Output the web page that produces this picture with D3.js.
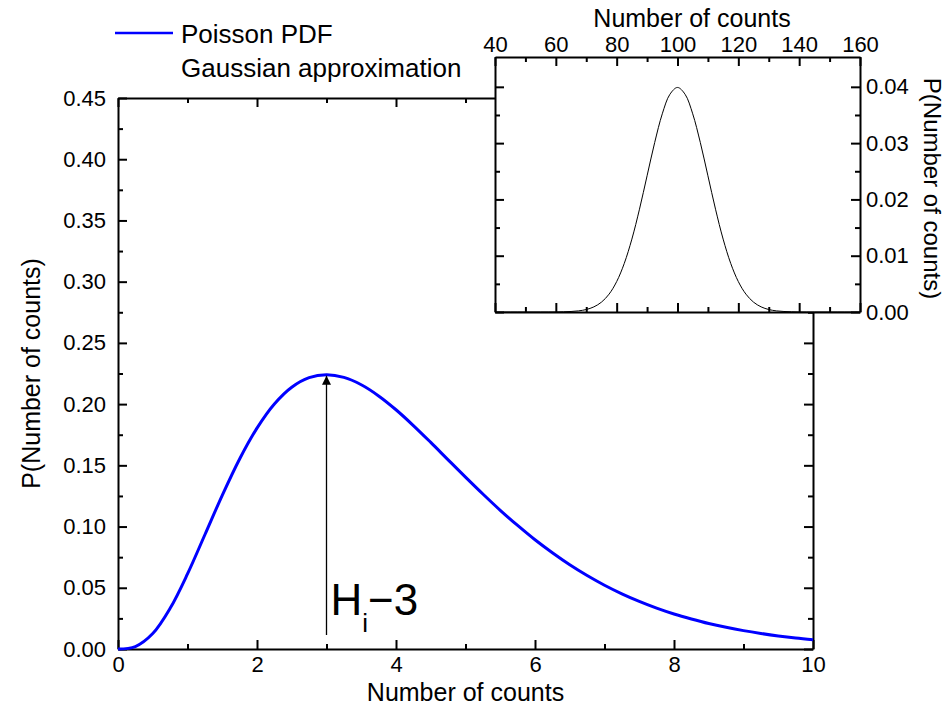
<!DOCTYPE html>
<html>
<head>
<meta charset="utf-8">
<script src="https://cdn.jsdelivr.net/npm/d3@7"></script>
<style>
  html, body { margin: 0; padding: 0; background: #fff; }
  svg { display: block; font-family: "Liberation Sans", Arial, sans-serif; }
  .axis path, .axis line { stroke: #000; }
</style>
</head>
<body>
<svg id="chart" width="945" height="713"></svg>
<script>
// Main curve: probability vs number of counts (steps of 0.25)
const countsX = [0, 0.25, 0.5, 0.75, 1, 1.25, 1.5, 1.75, 2, 2.25, 2.5, 2.75, 3, 3.25, 3.5, 3.75, 4, 4.25, 4.5, 4.75, 5,
                 5.25, 5.5, 5.75, 6, 6.25, 6.5, 6.75, 7, 7.25, 7.5, 7.75, 8, 8.25, 8.5, 8.75, 9, 9.25, 9.5, 9.75, 10];
const poissonY = [0, 0.0020, 0.0126, 0.0332, 0.0613, 0.0933, 0.1255, 0.1552, 0.1804, 0.2001, 0.2138, 0.2216, 0.2240,
                  0.2218, 0.2158, 0.2067, 0.1954, 0.1825, 0.1687, 0.1545, 0.1404, 0.1266, 0.1133, 0.1009, 0.0892,
                  0.0786, 0.0688, 0.0600, 0.0521, 0.0451, 0.0389, 0.0334, 0.0286, 0.0245, 0.0208, 0.0177, 0.0150,
                  0.0127, 0.0107, 0.0090, 0.0076];

// Inset curve: Gaussian approximation around 100 counts (steps of 2.5)
const insetX = [40, 42.5, 45, 47.5, 50, 52.5, 55, 57.5, 60, 62.5, 65, 67.5, 70, 72.5, 75, 77.5, 80, 82.5, 85, 87.5,
                90, 92.5, 95, 97.5, 100, 102.5, 105, 107.5, 110, 112.5, 115, 117.5, 120, 122.5, 125, 127.5, 130,
                132.5, 135, 137.5, 140, 142.5, 145, 147.5, 150, 152.5, 155, 157.5, 160];
const gaussY = [0, 0, 0, 0, 0, 0, 0, 0, 0.00001, 0.00004, 0.00009, 0.00020, 0.00044, 0.00091, 0.00175, 0.00317,
                0.00540, 0.00863, 0.01295, 0.01826, 0.02420, 0.03011, 0.03521, 0.03867, 0.03989, 0.03867, 0.03521,
                0.03011, 0.02420, 0.01826, 0.01295, 0.00863, 0.00540, 0.00317, 0.00175, 0.00091, 0.00044, 0.00020,
                0.00009, 0.00004, 0.00001, 0, 0, 0, 0, 0, 0, 0, 0];

const mainXTicks = [0, 2, 4, 6, 8, 10];
const mainXMinor = [1, 3, 5, 7, 9];
const mainYTicks = [0, 0.05, 0.10, 0.15, 0.20, 0.25, 0.30, 0.35, 0.40, 0.45];
const mainYMinor = [0.025, 0.075, 0.125, 0.175, 0.225, 0.275, 0.325, 0.375, 0.425];
const insetXTicks = [40, 60, 80, 100, 120, 140, 160];
const insetXMinor = [50, 70, 90, 110, 130, 150];
const insetYTicks = [0, 0.01, 0.02, 0.03, 0.04];
const insetYMinor = [0.005, 0.015, 0.025, 0.035];

const peakX = 3, peakY = 0.2240;

const TICK_FS = 22, TITLE_FS = 25, LEGEND_FS = 26;

const svg = d3.select("#chart");

// ---------- main panel ----------
const mL = 118, mR = 813, mT = 98, mB = 649;
const x = d3.scaleLinear().domain([0, 10]).range([mL, mR]);
const y = d3.scaleLinear().domain([0, 0.45]).range([mB, mT]);

function styleAxis(g) {
  g.attr("class", "axis");
  g.selectAll("path").attr("stroke-width", 2);
  g.selectAll("line").attr("stroke-width", 2);
  g.selectAll("text").attr("font-size", TICK_FS).attr("fill", "#000")
    .attr("font-family", "'Liberation Sans', Arial, sans-serif");
}
function minorAxis(g) { styleAxis(g); g.select("path").remove(); }

const fmt2 = d3.format(".2f");

// bottom
svg.append("g").attr("transform", `translate(0,${mB})`)
  .call(d3.axisBottom(x).tickValues(mainXTicks).tickFormat(d3.format("d")).tickSizeInner(-9).tickSizeOuter(0).tickPadding(7))
  .call(styleAxis);
svg.append("g").attr("transform", `translate(0,${mB})`)
  .call(d3.axisBottom(x).tickValues(mainXMinor).tickFormat("").tickSizeInner(-5).tickSizeOuter(0))
  .call(minorAxis);
// top
svg.append("g").attr("transform", `translate(0,${mT})`)
  .call(d3.axisTop(x).tickValues(mainXTicks).tickFormat("").tickSizeInner(-9).tickSizeOuter(0))
  .call(styleAxis);
svg.append("g").attr("transform", `translate(0,${mT})`)
  .call(d3.axisTop(x).tickValues(mainXMinor).tickFormat("").tickSizeInner(-5).tickSizeOuter(0))
  .call(minorAxis);
// left
svg.append("g").attr("transform", `translate(${mL},0)`)
  .call(d3.axisLeft(y).tickValues(mainYTicks).tickFormat(fmt2).tickSizeInner(-9).tickSizeOuter(0).tickPadding(12))
  .call(styleAxis);
svg.append("g").attr("transform", `translate(${mL},0)`)
  .call(d3.axisLeft(y).tickValues(mainYMinor).tickFormat("").tickSizeInner(-5).tickSizeOuter(0))
  .call(minorAxis);
// right
svg.append("g").attr("transform", `translate(${mR},0)`)
  .call(d3.axisRight(y).tickValues(mainYTicks).tickFormat("").tickSizeInner(-9).tickSizeOuter(0))
  .call(styleAxis);
svg.append("g").attr("transform", `translate(${mR},0)`)
  .call(d3.axisRight(y).tickValues(mainYMinor).tickFormat("").tickSizeInner(-5).tickSizeOuter(0))
  .call(minorAxis);

// main curve
const mainLine = d3.line().x((d, i) => x(countsX[i])).y(d => y(d)).curve(d3.curveCatmullRom);
svg.append("path").datum(poissonY)
  .attr("d", mainLine).attr("fill", "none")
  .attr("stroke", "#0000ff").attr("stroke-width", 3);

// arrow marking the peak
svg.append("defs").append("marker")
  .attr("id", "arrowhead").attr("viewBox", "0 0 10 10")
  .attr("refX", 10).attr("refY", 5)
  .attr("markerWidth", 11).attr("markerHeight", 9)
  .attr("markerUnits", "userSpaceOnUse")
  .attr("orient", "auto")
  .append("path").attr("d", "M0,0 L10,5 L0,10 Z").attr("fill", "#000");
svg.append("line")
  .attr("x1", x(peakX)).attr("x2", x(peakX))
  .attr("y1", y(0.0115)).attr("y2", y(peakY) + 1)
  .attr("stroke", "#000").attr("stroke-width", 1.3)
  .attr("marker-end", "url(#arrowhead)");

const ann = svg.append("text").attr("x", x(peakX) + 4).attr("y", y(0.0278))
  .attr("font-size", 44).attr("fill", "#000");
ann.append("tspan").text("H");
ann.append("tspan").attr("font-size", 26).attr("dy", 17).text("i");
ann.append("tspan").attr("dy", -17).text("\u22123");

// axis titles
svg.append("text").attr("x", (mL + mR) / 2).attr("y", 701)
  .attr("text-anchor", "middle").attr("font-size", TITLE_FS).text("Number of counts");
svg.append("text").attr("transform", `translate(40,${(mT + mB) / 2}) rotate(-90)`)
  .attr("text-anchor", "middle").attr("font-size", TITLE_FS).text("P(Number of counts)");

// legend
svg.append("line").attr("x1", 115).attr("x2", 173).attr("y1", 33).attr("y2", 33)
  .attr("stroke", "#0000ff").attr("stroke-width", 2.5);
svg.append("text").attr("x", 181).attr("y", 43).attr("font-size", LEGEND_FS).text("Poisson PDF");
svg.append("text").attr("x", 181).attr("y", 77).attr("font-size", LEGEND_FS).text("Gaussian approximation");

// ---------- inset panel ----------
const iL = 495, iR = 860, iT = 57, iB = 312;
const xi = d3.scaleLinear().domain([40, 160]).range([iL, iR]);
const yi = d3.scaleLinear().domain([0, 0.0453]).range([iB, iT]);

svg.append("rect").attr("x", iL).attr("y", iT).attr("width", iR - iL).attr("height", iB - iT)
  .attr("fill", "#fff");

svg.append("g").attr("transform", `translate(0,${iT})`)
  .call(d3.axisTop(xi).tickValues(insetXTicks).tickFormat(d3.format("d")).tickSizeInner(-9).tickSizeOuter(0).tickPadding(5))
  .call(styleAxis);
svg.append("g").attr("transform", `translate(0,${iT})`)
  .call(d3.axisTop(xi).tickValues(insetXMinor).tickFormat("").tickSizeInner(-5).tickSizeOuter(0))
  .call(minorAxis);
svg.append("g").attr("transform", `translate(0,${iB})`)
  .call(d3.axisBottom(xi).tickValues(insetXTicks).tickFormat("").tickSizeInner(-9).tickSizeOuter(0))
  .call(styleAxis);
svg.append("g").attr("transform", `translate(0,${iB})`)
  .call(d3.axisBottom(xi).tickValues(insetXMinor).tickFormat("").tickSizeInner(-5).tickSizeOuter(0))
  .call(minorAxis);
svg.append("g").attr("transform", `translate(${iL},0)`)
  .call(d3.axisLeft(yi).tickValues(insetYTicks).tickFormat("").tickSizeInner(-9).tickSizeOuter(0))
  .call(styleAxis);
svg.append("g").attr("transform", `translate(${iL},0)`)
  .call(d3.axisLeft(yi).tickValues(insetYMinor).tickFormat("").tickSizeInner(-5).tickSizeOuter(0))
  .call(minorAxis);
svg.append("g").attr("transform", `translate(${iR},0)`)
  .call(d3.axisRight(yi).tickValues(insetYTicks).tickFormat(fmt2).tickSizeInner(-9).tickSizeOuter(0).tickPadding(6))
  .call(styleAxis);
svg.append("g").attr("transform", `translate(${iR},0)`)
  .call(d3.axisRight(yi).tickValues(insetYMinor).tickFormat("").tickSizeInner(-5).tickSizeOuter(0))
  .call(minorAxis);

const insetLine = d3.line().x((d, i) => xi(insetX[i])).y(d => yi(d)).curve(d3.curveCatmullRom);
svg.append("path").datum(gaussY)
  .attr("d", insetLine).attr("fill", "none")
  .attr("stroke", "#000").attr("stroke-width", 1);

svg.append("text").attr("x", 692).attr("y", 27)
  .attr("text-anchor", "middle").attr("font-size", TITLE_FS).text("Number of counts");
svg.append("text").attr("transform", `translate(924,${(iT + iB) / 2 + 4}) rotate(90)`)
  .attr("text-anchor", "middle").attr("font-size", 24).text("P(Number of counts)");
</script>
</body>
</html>
